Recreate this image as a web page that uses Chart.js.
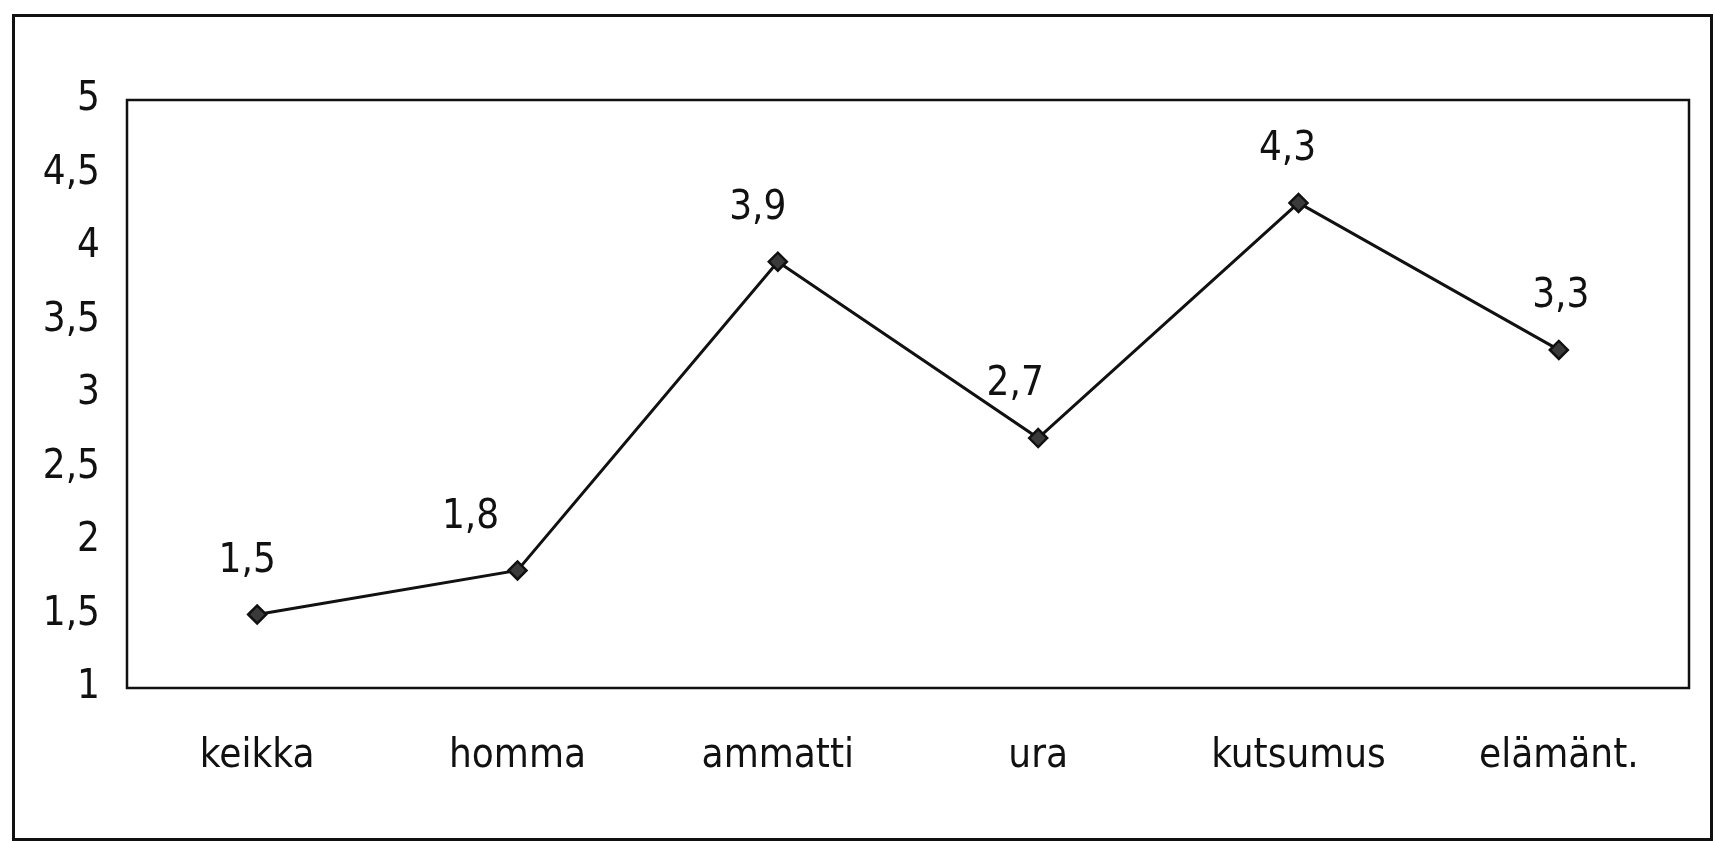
<!DOCTYPE html>
<html>
<head>
<meta charset="utf-8">
<script src="https://cdn.jsdelivr.net/npm/chart.js@4/dist/chart.umd.min.js"></script>
<style>
html, body { margin: 0; padding: 0; background: #fff; }
</style>
</head>
<body>
<canvas id="mycanvas" width="1715" height="843"></canvas>
<script>
var kategoriat = ['keikka', 'homma', 'ammatti', 'ura', 'kutsumus', 'elämänt.'];
var arvot = [1.5, 1.8, 3.9, 2.7, 4.3, 3.3];
var yTikit = [1, 1.5, 2, 2.5, 3, 3.5, 4, 4.5, 5];

// arvojen tekstit hieman sivuun pisteestä, kuten alkuperäisessä
var tekstiSiirto = [-10, -47, -20, -23, -11, 2];

var fontti = '"Liberation Sans Narrow", "DejaVu Sans Condensed", "Liberation Sans", Arial, sans-serif';
var musta = '#111';

function pilkku(v) {
    return String(v).replace('.', ',');
}

var kehys = {
    id: 'kehys',
    beforeDraw: function (chart) {
        var ctx = chart.ctx;
        ctx.save();
        ctx.fillStyle = '#fff';
        ctx.fillRect(0, 0, chart.width, chart.height);
        ctx.restore();
    },
    beforeDatasetsDraw: function (chart) {
        var ctx = chart.ctx, a = chart.chartArea;
        ctx.save();
        ctx.strokeStyle = musta;
        ctx.lineWidth = 3;
        ctx.strokeRect(13.5, 15.5, 1698, 824);
        ctx.lineWidth = 2.5;
        ctx.strokeRect(a.left, a.top, a.right - a.left, a.bottom - a.top);
        ctx.restore();
    },
    afterDatasetsDraw: function (chart) {
        var ctx = chart.ctx;
        var meta = chart.getDatasetMeta(0);
        ctx.save();
        ctx.fillStyle = musta;
        ctx.font = '40px ' + fontti;
        ctx.textAlign = 'center';
        ctx.textBaseline = 'middle';
        meta.data.forEach(function (p, i) {
            ctx.fillText(pilkku(arvot[i]), p.x + tekstiSiirto[i], p.y - 53);
        });
        ctx.restore();
    }
};

var ctx = document.getElementById('mycanvas');

var chart = new Chart(ctx, {
    type: 'line',
    data: {
        labels: kategoriat,
        datasets: [{
            data: arvot,
            borderColor: musta,
            borderWidth: 3,
            tension: 0,
            fill: false,
            pointStyle: 'rectRot',
            pointRadius: 9,
            pointBorderWidth: 2.5,
            pointBorderColor: musta,
            pointBackgroundColor: '#3a3a3a'
        }]
    },
    options: {
        responsive: false,
        animation: false,
        layout: { padding: { left: 0, right: 26, top: 100, bottom: 0 } },
        plugins: {
            legend: { display: false },
            tooltip: { enabled: false }
        },
        scales: {
            x: {
                offset: true,
                grid: { display: false, drawTicks: false },
                border: { display: false },
                ticks: {
                    color: musta,
                    padding: 45,
                    maxRotation: 0,
                    font: { family: fontti, size: 40 }
                },
                afterFit: function (scale) { scale.height = 155; }
            },
            y: {
                min: 1,
                max: 5,
                grid: { display: false, drawTicks: false },
                border: { display: false },
                afterBuildTicks: function (scale) {
                    scale.ticks = yTikit.map(function (v) { return { value: v }; });
                },
                ticks: {
                    color: musta,
                    padding: 27,
                    font: { family: fontti, size: 40 },
                    callback: function (v) { return pilkku(v); }
                },
                afterFit: function (scale) { scale.width = 127; }
            }
        }
    },
    plugins: [kehys]
});
</script>
</body>
</html>
